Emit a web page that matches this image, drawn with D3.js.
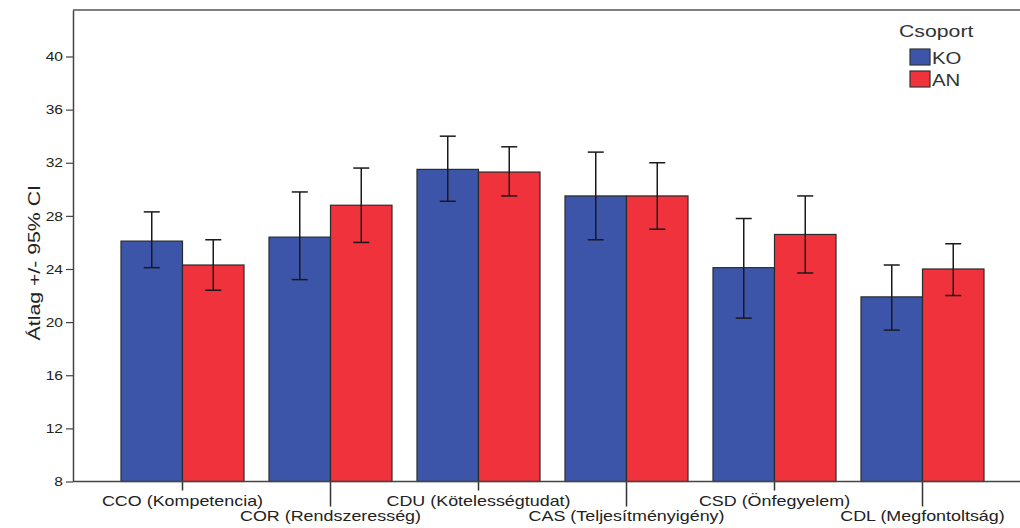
<!DOCTYPE html>
<html>
<head>
<meta charset="utf-8">
<script src="https://cdn.jsdelivr.net/npm/d3@7"></script>
<style>
  html, body { margin: 0; padding: 0; background: #fff; }
  svg { display: block; font-family: "Liberation Sans", Arial, sans-serif; }
</style>
</head>
<body>
<svg id="chart" width="1020" height="528"></svg>
<script>
// Scale categories (NEO-PI-R facets) and group means with 95% CI bounds
const categories = [
  "CCO (Kompetencia)",
  "COR (Rendszeresség)",
  "CDU (Kötelességtudat)",
  "CAS (Teljesítményigény)",
  "CSD (Önfegyelem)",
  "CDL (Megfontoltság)"
];
const groups = ["KO", "AN"];

const meanKO = [26.1, 26.4, 31.5, 29.5, 24.1, 21.9];
const lowKO  = [24.1, 23.2, 29.1, 26.2, 20.3, 19.4];
const highKO = [28.3, 29.8, 34.0, 32.8, 27.8, 24.3];

const meanAN = [24.3, 28.8, 31.3, 29.5, 26.6, 24.0];
const lowAN  = [22.4, 26.0, 29.5, 27.0, 23.7, 22.0];
const highAN = [26.2, 31.6, 33.2, 32.0, 29.5, 25.9];

const yTicks = [8, 12, 16, 20, 24, 28, 32, 36, 40];
const yTitle = "Átlag +/- 95% CI";
const legendTitle = "Csoport";

const colors = { KO: "#3d55a9", AN: "#ef323b" };
const stretch = 1.2;   // horizontal text stretch for tick labels
const xStretch = 1.28; // category labels

const rows = categories.map((c, i) => ({
  cat: c,
  vals: [
    { g: "KO", mean: meanKO[i], lo: lowKO[i], hi: highKO[i] },
    { g: "AN", mean: meanAN[i], lo: lowAN[i], hi: highAN[i] }
  ]
}));

const svg = d3.select("#chart");

const frame = { left: 73, top: 10, right: 1020, bottom: 481.5 };

const x = d3.scaleBand()
  .domain(categories)
  .range([108.5, 996.5])
  .paddingInner(25 / 148)
  .paddingOuter(12.5 / 148);

const xg = d3.scaleBand()
  .domain(groups)
  .range([0, x.bandwidth()]);

const y = d3.scaleLinear()
  .domain([8, 43.5])
  .range([frame.bottom, frame.top]);

// Bars
const gBars = svg.append("g");
rows.forEach(r => {
  const g = gBars.append("g").attr("transform", `translate(${x(r.cat)},0)`);
  g.selectAll("rect")
    .data(r.vals)
    .join("rect")
    .attr("x", d => xg(d.g))
    .attr("y", d => y(d.mean))
    .attr("width", xg.bandwidth())
    .attr("height", d => y(8) - y(d.mean))
    .attr("fill", d => colors[d.g])
    .attr("stroke", "#2a2a2a")
    .attr("stroke-width", 1.2);

  // Error bars
  const cap = 8;
  const eb = g.selectAll("g.err")
    .data(r.vals)
    .join("g")
    .attr("class", "err")
    .attr("transform", d => `translate(${xg(d.g) + xg.bandwidth() / 2},0)`);
  eb.append("line")
    .attr("y1", d => y(d.lo)).attr("y2", d => y(d.hi))
    .attr("stroke", "#1a1a1a").attr("stroke-width", 1.5);
  eb.append("line")
    .attr("x1", -cap).attr("x2", cap)
    .attr("y1", d => y(d.hi)).attr("y2", d => y(d.hi))
    .attr("stroke", "#1a1a1a").attr("stroke-width", 1.5);
  eb.append("line")
    .attr("x1", -cap).attr("x2", cap)
    .attr("y1", d => y(d.lo)).attr("y2", d => y(d.lo))
    .attr("stroke", "#1a1a1a").attr("stroke-width", 1.5);
});

// Frame: top line
svg.append("line")
  .attr("x1", frame.left).attr("x2", frame.right)
  .attr("y1", frame.top).attr("y2", frame.top)
  .attr("stroke", "#555").attr("stroke-width", 1.5);

// Y axis
const yAxis = svg.append("g")
  .attr("transform", `translate(${frame.left},0)`)
  .call(d3.axisLeft(y).tickValues(yTicks).tickSize(7).tickPadding(3).tickSizeOuter(0));
yAxis.select(".domain").attr("stroke", "#444").attr("stroke-width", 1.5);
yAxis.selectAll(".tick line").attr("stroke", "#444").attr("stroke-width", 1.2);
yAxis.selectAll(".tick text")
  .attr("font-size", 13)
  .attr("fill", "#222")
  .attr("font-family", "Liberation Sans, Arial, sans-serif")
  .attr("x", 0)
  .attr("transform", `translate(-10,0) scale(${stretch},1)`);

// X axis
const xAxis = svg.append("g")
  .attr("transform", `translate(0,${frame.bottom})`)
  .call(d3.axisBottom(x).tickSize(0).tickSizeOuter(0));
xAxis.select(".domain").remove();
svg.append("line")
  .attr("x1", frame.left).attr("x2", frame.right)
  .attr("y1", frame.bottom).attr("y2", frame.bottom)
  .attr("stroke", "#444").attr("stroke-width", 1.5);
xAxis.selectAll(".tick").each(function(d, i) {
  const t = d3.select(this);
  t.select("line")
    .attr("y2", i % 2 === 0 ? 9 : 25)
    .attr("stroke", "#333").attr("stroke-width", 1.5);
  t.select("text")
    .attr("y", 0).attr("dy", null)
    .attr("font-size", 14)
    .attr("fill", "#222")
    .attr("font-family", "Liberation Sans, Arial, sans-serif")
    .attr("transform", `translate(0,${i % 2 === 0 ? 24 : 39}) scale(${xStretch},1)`);
});

// Y axis title
svg.append("text")
  .attr("transform", `translate(40,${(frame.top + frame.bottom) / 2 + 17}) rotate(-90) scale(1.25,1)`)
  .attr("text-anchor", "middle")
  .attr("font-size", 17)
  .attr("fill", "#222")
  .text(yTitle);

// Legend
const legend = svg.append("g").attr("transform", "translate(899,37)");
legend.append("text")
  .attr("x", 0).attr("y", 0)
  .attr("font-size", 17)
  .attr("fill", "#333")
  .attr("transform", `scale(1.25,1)`)
  .text(legendTitle);
groups.forEach((gname, i) => {
  const row = legend.append("g").attr("transform", `translate(11,${12 + i * 22})`);
  row.append("rect")
    .attr("width", 20).attr("height", 16)
    .attr("fill", colors[gname])
    .attr("stroke", "#333").attr("stroke-width", 1.2);
  row.append("text")
    .attr("x", 0).attr("y", 15)
    .attr("font-size", 17)
    .attr("fill", "#333")
    .attr("transform", `translate(22,0) scale(1.2,1)`)
    .text(gname);
});
</script>
</body>
</html>
